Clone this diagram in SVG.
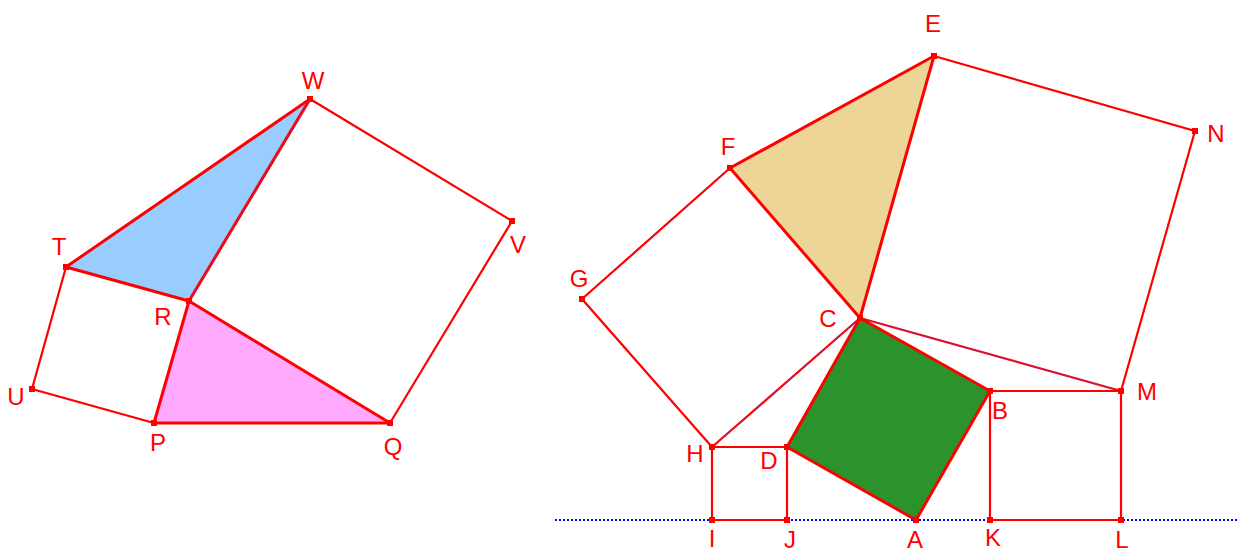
<svg xmlns="http://www.w3.org/2000/svg" width="1239" height="551" viewBox="0 0 1239 551">
<style>
.ln{stroke:#ff0000;stroke-width:2.2;fill:none;stroke-linecap:round}
.th{stroke:#ff0000;stroke-width:3;fill:none;stroke-linejoin:round}
.pt{fill:#ff0000}
.lb{font-family:"Liberation Sans",Arial,sans-serif;font-size:24px;fill:#ff0000;text-anchor:middle}
.tint{stroke:#7a3aa8;stroke-width:0.8;fill:none;opacity:0.7}
</style>
<defs>
<rect id="dot" x="-3" y="-3" width="6" height="6" class="pt"/>
</defs>
<rect width="1239" height="551" fill="#ffffff"/>

<g id="fills">
<polygon points="66,267 310,99 189,301" fill="#99ccff"/>
<polygon points="154,423 390,423 189,301" fill="#ffaaff"/>
<polygon points="730,168 934,56 860,318" fill="#ecd597"/>
<polygon points="860,318 990,391 916,520 787,447" fill="#2b922c"/>
</g>

<line id="baseline" x1="555" y1="520" x2="1239" y2="520" stroke="#0000ff" stroke-width="2" stroke-dasharray="2,2"/>

<g id="connectors">
<polyline class="ln" points="66,267 32,389 154,423"/>
<polyline class="ln" points="310,99 512,221 390,423"/>
<line class="th" x1="66" y1="267" x2="310" y2="99"/>
<line class="th" x1="66" y1="267" x2="189" y2="301"/>
<line class="th" x1="189" y1="301" x2="310" y2="99"/>
<line class="tint" x1="189" y1="301" x2="310" y2="99"/>
<line class="th" x1="154" y1="423" x2="189" y2="301"/>
<line class="th" x1="189" y1="301" x2="390" y2="423"/>
<line class="th" x1="154" y1="423" x2="390" y2="423"/>
<polyline class="ln" points="730,168 582,299 712,447"/>
<polyline class="ln" points="934,56 1195,131 1121,391"/>
<line class="th" x1="730" y1="168" x2="934" y2="56"/>
<line class="th" x1="934" y1="56" x2="860" y2="318"/>
<line class="th" x1="730" y1="168" x2="860" y2="318"/>
<line class="ln" x1="712" y1="447" x2="860" y2="318"/>
<line class="tint" x1="712" y1="447" x2="860" y2="318"/>
<line class="ln" x1="860" y1="318" x2="1121" y2="391"/>
<line class="tint" x1="860" y1="318" x2="1121" y2="391"/>
<polygon class="th" points="860,318 990,391 916,520 787,447"/>
<polyline class="ln" points="712,447 787,447 787,520 712,520 712,447"/>
<polyline class="ln" points="990,391 1121,391 1121,520 990,520 990,391"/>
</g>

<g id="points">
<use href="#dot" x="310" y="99"/>
<use href="#dot" x="512" y="221"/>
<use href="#dot" x="390" y="423"/>
<use href="#dot" x="154" y="423"/>
<use href="#dot" x="189" y="301"/>
<use href="#dot" x="66" y="267"/>
<use href="#dot" x="32" y="389"/>
<use href="#dot" x="934" y="56"/>
<use href="#dot" x="1195" y="131"/>
<use href="#dot" x="1121" y="391"/>
<use href="#dot" x="990" y="391"/>
<use href="#dot" x="860" y="318"/>
<use href="#dot" x="730" y="168"/>
<use href="#dot" x="582" y="299"/>
<use href="#dot" x="712" y="447"/>
<use href="#dot" x="787" y="447"/>
<use href="#dot" x="916" y="520"/>
<use href="#dot" x="712" y="520"/>
<use href="#dot" x="787" y="520"/>
<use href="#dot" x="990" y="520"/>
<use href="#dot" x="1121" y="520"/>
</g>

<g id="labels">
<g id="node-W"><text class="lb" x="313" y="89">W</text></g>
<g id="node-T"><text class="lb" x="59" y="255">T</text></g>
<g id="node-R"><text class="lb" x="163" y="325">R</text></g>
<g id="node-U"><text class="lb" x="16" y="405">U</text></g>
<g id="node-P"><text class="lb" x="158" y="451">P</text></g>
<g id="node-Q"><text class="lb" x="393" y="455">Q</text></g>
<g id="node-V"><text class="lb" x="518" y="253">V</text></g>
<g id="node-E"><text class="lb" x="933" y="32">E</text></g>
<g id="node-N"><text class="lb" x="1216" y="142">N</text></g>
<g id="node-F"><text class="lb" x="728" y="155">F</text></g>
<g id="node-G"><text class="lb" x="579" y="287">G</text></g>
<g id="node-C"><text class="lb" x="828" y="327">C</text></g>
<g id="node-M"><text class="lb" x="1147" y="400">M</text></g>
<g id="node-B"><text class="lb" x="1000" y="419">B</text></g>
<g id="node-H"><text class="lb" x="695" y="462">H</text></g>
<g id="node-D"><text class="lb" x="769" y="469">D</text></g>
<g id="node-I"><text class="lb" x="712" y="547">I</text></g>
<g id="node-J"><text class="lb" x="790" y="548">J</text></g>
<g id="node-A"><text class="lb" x="915" y="548">A</text></g>
<g id="node-K"><text class="lb" x="993" y="546">K</text></g>
<g id="node-L"><text class="lb" x="1122" y="548">L</text></g>
</g>
</svg>
